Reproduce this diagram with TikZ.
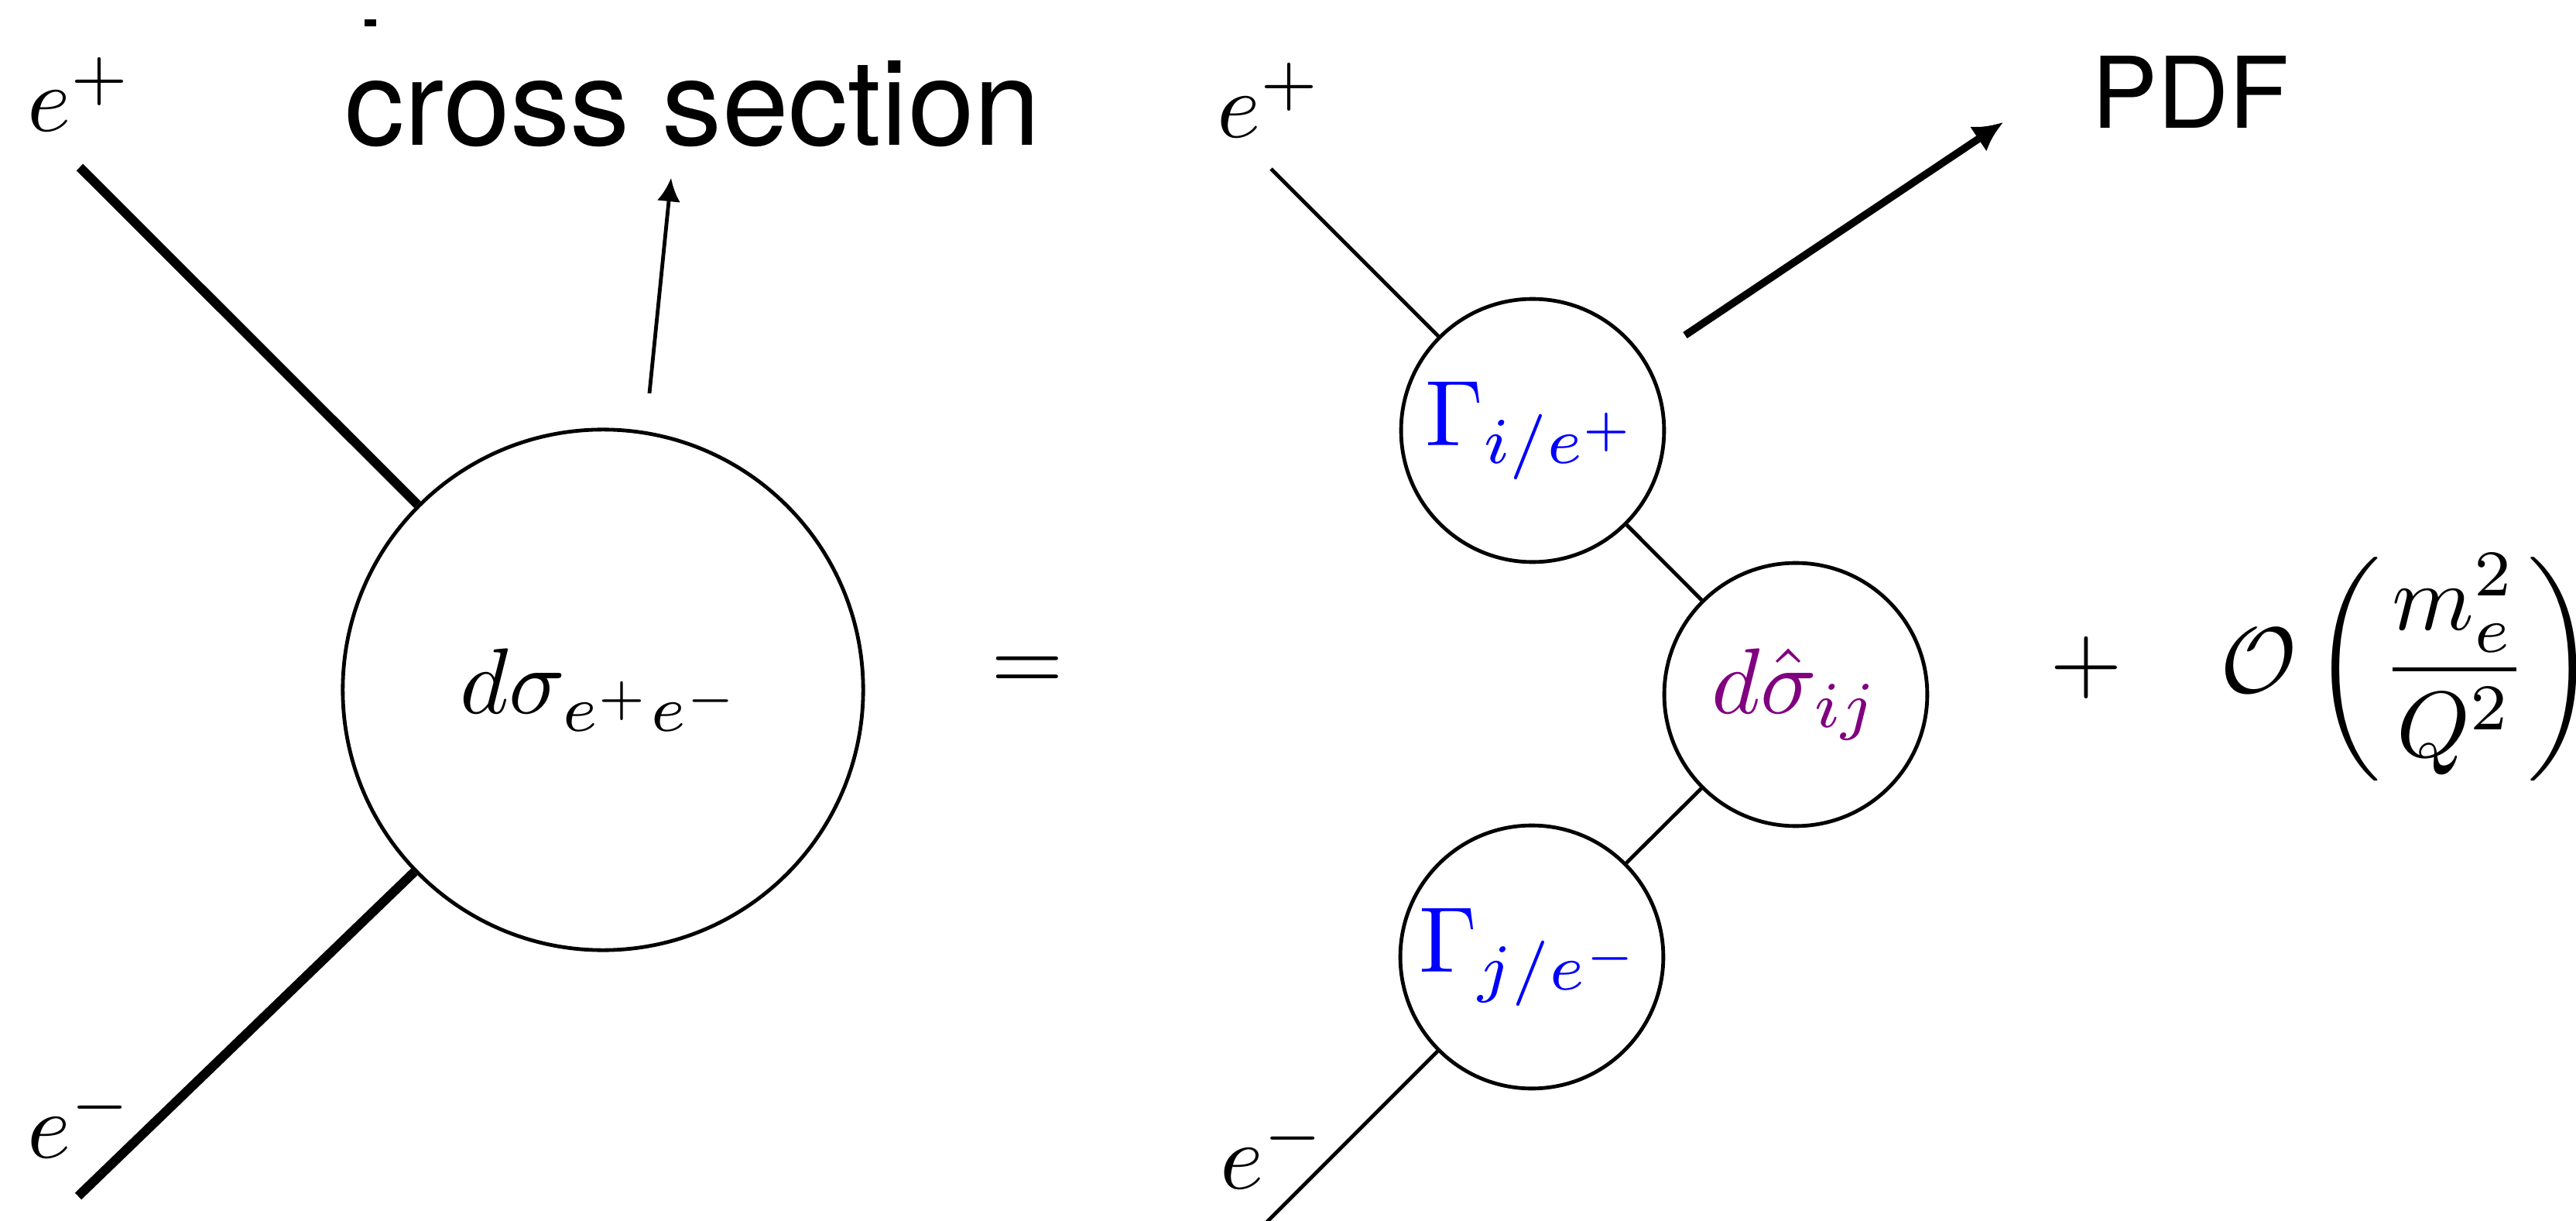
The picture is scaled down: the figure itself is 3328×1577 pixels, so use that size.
\documentclass[tikz,border=0pt]{standalone}
\usepackage{amsmath,amssymb}
\usepackage{fontspec}
\newfontfamily\heros{TeX Gyre Heros}
\usetikzlibrary{arrows.meta}
\definecolor{GammaBlue}{RGB}{0,0,255}
\definecolor{HardPurple}{RGB}{128,0,128}
\tikzset{
  blob/.style={circle,draw,line width=0.4pt,inner sep=0pt,minimum size=28.2pt},
  bigblob/.style={blob,minimum size=55.8pt},
  leg/.style={line width=1pt},
  thinleg/.style={line width=0.4pt},
  lbl/.style={anchor=base west,inner sep=0pt},
  words/.style={inner sep=0pt,font=\heros}
}
\begin{document}
\begin{tikzpicture}[x=0.083pt,y=-0.083pt]
  \useasboundingbox (0,0) rectangle (3328,1577);
  \node[bigblob] (tot) at (779,891) {$d\sigma_{e^+e^-}$};
  \node[lbl] (epL) at (33,170) {$e^+$};
  \node[lbl] (emL) at (33,1495) {$e^-$};
  \coordinate (epLend) at (103,216);
  \coordinate (emLend) at (101,1545);
  \draw[leg] (epLend) -- (tot);
  \draw[leg] (emLend) -- (tot);
  \node[words,anchor=base,font=\heros\fontsize{12.8}{15}\selectfont] (cs) at (895,188) {cross section};
  \fill (471,25) rectangle (486,34);
  \coordinate (csfoot) at (839,508);
  \coordinate (cstip) at (867,230);
  \draw[thinleg,-{Latex[length=2.5pt,width=2.5pt]}] (csfoot) -- (cstip);
  \node[anchor=base] (eq) at (1327,892) {$=$};
  \node[blob,text=GammaBlue] (gi) at (1980,556) {$\Gamma_{i/e^+}$};
  \node[blob,text=HardPurple] (hard) at (2320,897) {$d\hat{\sigma}_{ij}$};
  \node[blob,text=GammaBlue] (gj) at (1979,1236) {$\Gamma_{j/e^-}$};
  \node[lbl] (epR) at (1570,177) {$e^+$};
  \node[lbl] (emR) at (1574,1535) {$e^-$};
  \coordinate (epRend) at (1642,218);
  \coordinate (emRend) at (1635,1580);
  \draw[thinleg] (epRend) -- (gi);
  \draw[thinleg] (gi) -- (hard);
  \draw[thinleg] (hard) -- (gj);
  \draw[thinleg] (gj) -- (emRend);
  \coordinate (pdffoot) at (2177,433);
  \coordinate (pdftip) at (2588,158);
  \draw[line width=0.8pt,-{Latex[length=3.2pt,width=3.2pt]}] (pdffoot) -- (pdftip);
  \node[words,anchor=base west,font=\heros\fontsize{10.6}{13}\selectfont] (pdf) at (2700,165) {PDF};
  \node[anchor=base] (plus) at (2695,892) {$+$};
  \node[anchor=west,inner sep=0pt] (order) at (2866,862) {$\displaystyle\mathcal{O}\left(\frac{m_e^2}{Q^2}\right)$};
\end{tikzpicture}
\end{document}
